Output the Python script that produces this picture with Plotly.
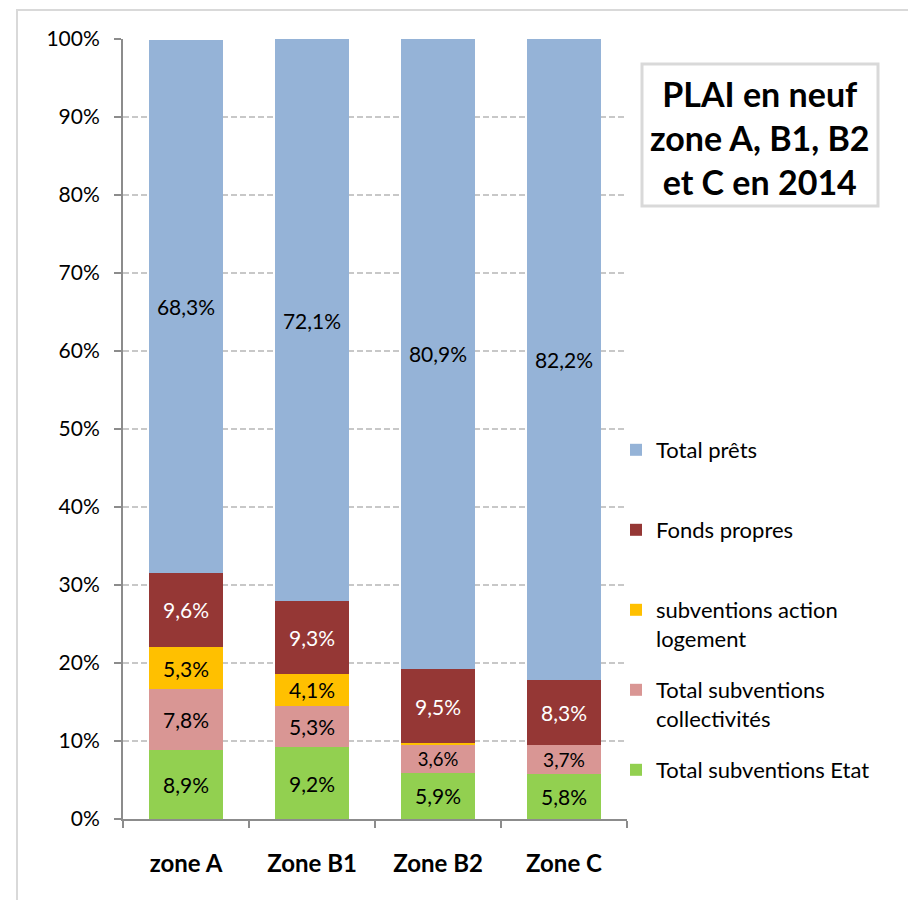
import plotly.graph_objects as go

categories = ["zone A", "Zone B1", "Zone B2", "Zone C"]
etat = [8.9, 9.2, 5.9, 5.8]
collectivites = [7.8, 5.3, 3.6, 3.7]
action_logement = [5.3, 4.1, 0.2, 0.0]
fonds_propres = [9.6, 9.3, 9.5, 8.3]
prets = [68.3, 72.1, 80.9, 82.2]

series = [
    ("Total subventions Etat", etat, "#92D050", "black"),
    ("Total subventions<br>collectivités", collectivites, "#D99694", "black"),
    ("subventions action<br>logement", action_logement, "#FFC000", "black"),
    ("Fonds propres", fonds_propres, "#953735", "white"),
    ("Total prêts", prets, "#95B3D7", "black"),
]
# first-line centre (page px) of each legend entry, same order as series
legend_rows = [769, 689, 609, 529, 449]

OFF = 8  # page body margin
W, H = 908, 892
L, R, T, B = 123 - OFF, 627 - OFF, 39 - OFF, 819 - OFF
def px(x):
    return (x - OFF - L) / (R - L)
def py(y):
    return (B - (y - OFF)) / (B - T)

FONT = "Lato"
fig = go.Figure()
legends = {}
for i, (name, vals, color, tcol) in enumerate(series):
    texts = [(f"{v:.1f}%".replace(".", ",") if v >= 1 else "") for v in vals]
    lname = "legend" if i == 0 else f"legend{i + 1}"
    fig.add_trace(go.Bar(
        x=categories, y=[v / 100 for v in vals], name=name,
        marker=dict(color=color, line=dict(width=0)),
        text=texts, textposition="inside", insidetextanchor="middle",
        textfont=dict(color=tcol, size=21, family=FONT),
        textangle=0, legend=lname,
    ))
    legends[lname] = dict(
        x=px(616), y=py(legend_rows[i] - 20), xanchor="left", yanchor="top",
        valign="top", font=dict(size=22, family=FONT, color="black"),
        itemwidth=30, bgcolor="rgba(0,0,0,0)", borderwidth=0,
    )

fig.update_layout(
    width=W, height=H,
    barmode="stack", bargap=0.41,
    paper_bgcolor="white", plot_bgcolor="white",
    margin=dict(l=L, r=W - R, t=T, b=H - B, autoexpand=False),
    font=dict(family=FONT, size=21, color="black"),
    showlegend=True,
    xaxis=dict(
        showgrid=False, showline=True, linecolor="#8C8C8C", linewidth=2,
        ticks="outside", tickson="boundaries", ticklen=7, tickcolor="#8C8C8C",
        tickwidth=2,
        tickfont=dict(size=24, family=FONT, color="black", weight="bold"),
        ticklabelstandoff=22,
    ),
    yaxis=dict(
        range=[0, 1], tickvals=[i / 10 for i in range(11)], tickformat=".0%",
        showgrid=True, gridcolor="#C8C8C8", griddash="6px,3px", gridwidth=1.5,
        showline=True, linecolor="#8C8C8C", linewidth=2,
        ticks="outside", ticklen=7, tickcolor="#8C8C8C", tickwidth=2,
        tickfont=dict(size=21, family=FONT, color="black"),
        zeroline=False, ticklabelstandoff=10,
    ),
    shapes=[
        dict(type="rect", xref="paper", yref="paper",
             x0=px(17), x1=px(930), y0=py(10), y1=py(920),
             line=dict(color="#D9D9D9", width=2), fillcolor="rgba(0,0,0,0)", layer="below"),
        dict(type="rect", xref="paper", yref="paper",
             x0=px(642), x1=px(878), y0=py(64), y1=py(206),
             line=dict(color="#D9D9D9", width=3), fillcolor="white"),
    ],
    annotations=[
        dict(xref="paper", yref="paper", x=px(760), y=py(137),
             xanchor="center", yanchor="middle", showarrow=False,
             text="<b>PLAI en neuf<br>zone A, B1, B2<br>et C en 2014</b>",
             font=dict(size=34, family=FONT, color="black"),
             align="center"),
    ],
)
fig.update_layout(**legends)

fig.write_html("out.html")
